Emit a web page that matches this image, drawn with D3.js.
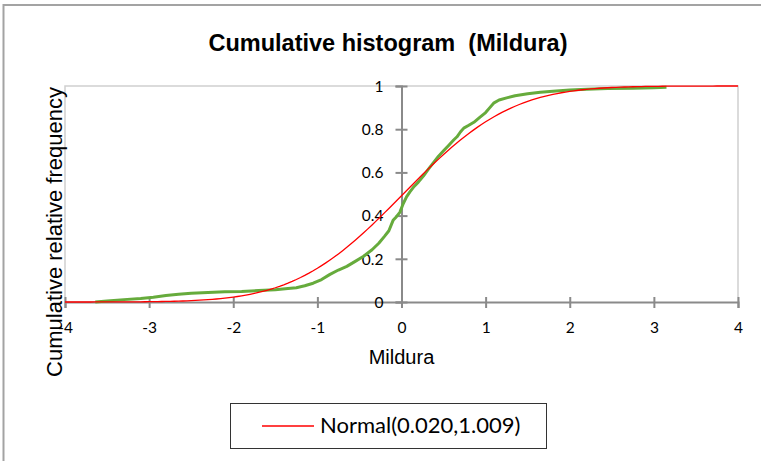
<!DOCTYPE html>
<html>
<head>
<meta charset="utf-8">
<script src="https://cdn.jsdelivr.net/npm/d3@7"></script>
<style>
  html, body { margin: 0; padding: 0; background: #fff; }
  svg { display: block; }
</style>
</head>
<body>
<svg id="chart" width="761" height="461"></svg>
<script>
// Empirical cumulative distribution of the standardised Mildura values
const ecdfX = [-3.64, -3.5, -3.3, -3.1, -2.95, -2.8, -2.65, -2.5, -2.3, -2.1, -1.9, -1.7, -1.5, -1.35, -1.25, -1.15, -1.05, -0.95, -0.85, -0.75, -0.65, -0.55, -0.45, -0.35, -0.27, -0.2, -0.15, -0.1, -0.06, -0.02, 0.02, 0.06, 0.1, 0.15, 0.2, 0.26, 0.32, 0.38, 0.44, 0.5, 0.56, 0.62, 0.66, 0.7, 0.74, 0.8, 0.86, 0.93, 1.0, 1.05, 1.1, 1.16, 1.25, 1.35, 1.5, 1.65, 1.8, 2.0, 2.2, 2.45, 2.75, 3.0, 3.15];
const ecdfP = [0, 0.005, 0.011, 0.016, 0.022, 0.03, 0.036, 0.041, 0.044, 0.047, 0.049, 0.053, 0.057, 0.062, 0.066, 0.075, 0.087, 0.104, 0.128, 0.148, 0.165, 0.188, 0.212, 0.242, 0.272, 0.305, 0.33, 0.378, 0.395, 0.415, 0.455, 0.487, 0.51, 0.535, 0.555, 0.583, 0.615, 0.645, 0.675, 0.7, 0.725, 0.75, 0.765, 0.787, 0.805, 0.818, 0.832, 0.855, 0.877, 0.9, 0.922, 0.935, 0.945, 0.955, 0.964, 0.971, 0.976, 0.981, 0.985, 0.988, 0.99, 0.992, 0.994];

// Fitted normal distribution (mean, standard deviation)
const normMean = [0.020];
const normSd = [1.009];

const xTicks = [-4, -3, -2, -1, 0, 1, 2, 3, 4];
const yTicks = [0, 0.2, 0.4, 0.6, 0.8, 1];

const titleText = "Cumulative histogram  (Mildura)";
const xTitle = "Mildura";
const yTitle = "Cumulative relative frequency";
const legendLabel = "Normal(0.020,1.009)";

// --- helpers ---
function erf(z) {
  const s = Math.sign(z); z = Math.abs(z);
  const t = 1 / (1 + 0.3275911 * z);
  const y = 1 - (((((1.061405429 * t - 1.453152027) * t) + 1.421413741) * t - 0.284496736) * t + 0.254829592) * t * Math.exp(-z * z);
  return s * y;
}
const normCdf = v => 0.5 * (1 + erf((v - normMean[0]) / (normSd[0] * Math.SQRT2)));

const svg = d3.select("#chart");
const plot = { left: 65, right: 738, top: 86, bottom: 302 };

const x = d3.scaleLinear().domain([-4, 4]).range([plot.left, plot.right]);
const y = d3.scaleLinear().domain([0, 1]).range([plot.bottom, plot.top]);

// outer chart frame
svg.append("rect")
  .attr("x", 3.5).attr("y", 5).attr("width", 780).attr("height", 480)
  .attr("fill", "none").attr("stroke", "#a3a3a3").attr("stroke-width", 2);

// title
svg.append("text")
  .attr("x", 388).attr("y", 51)
  .attr("text-anchor", "middle")
  .style("white-space", "pre")
  .attr("font-family", "'Liberation Sans', Arial, sans-serif")
  .attr("font-weight", "bold").attr("font-size", 23.5)
  .attr("fill", "#000")
  .text(titleText);

// plot area border (light grey)
svg.append("path")
  .attr("d", `M${plot.left},${plot.bottom} V${plot.top} H${plot.right} V${plot.bottom}`)
  .attr("fill", "none").attr("stroke", "#d0d0d0").attr("stroke-width", 1.5);

const tickFont = "Lato, 'Open Sans', sans-serif";

// x axis through y = 0
const gx = svg.append("g")
  .attr("transform", `translate(0,${y(0)})`)
  .call(d3.axisBottom(x).tickValues(xTicks).tickSize(6).tickFormat(d3.format("d")));
gx.select(".domain").attr("stroke", "#8a8a8a").attr("stroke-width", 2);
gx.selectAll(".tick line").attr("y1", -5).attr("y2", 6).attr("stroke", "#8a8a8a").attr("stroke-width", 2);
gx.selectAll(".tick text")
  .attr("y", 31).attr("dy", 0)
  .attr("font-family", tickFont).attr("font-size", 15.5).attr("fill", "#000")
  .text(d => d < 0 ? "-" + Math.abs(d) : d);

// y axis through x = 0
const gy = svg.append("g")
  .attr("transform", `translate(${x(0)},0)`)
  .call(d3.axisLeft(y).tickValues(yTicks).tickSize(6).tickFormat(d => d === 0 || d === 1 ? d3.format("d")(d) : d3.format(".1f")(d)));
gy.select(".domain").attr("stroke", "#8a8a8a").attr("stroke-width", 2);
gy.selectAll(".tick line").attr("x1", -6).attr("x2", 6).attr("stroke", "#8a8a8a").attr("stroke-width", 2);
gy.selectAll(".tick text")
  .attr("x", -18).attr("dy", "0.34em")
  .attr("font-family", tickFont).attr("font-size", 15.5).attr("fill", "#000");

// axis titles
svg.append("text")
  .attr("x", x(0)).attr("y", 364)
  .attr("text-anchor", "middle")
  .attr("font-family", "'Liberation Sans', Arial, sans-serif")
  .attr("font-size", 20).attr("fill", "#000")
  .text(xTitle);

svg.append("text")
  .attr("transform", `translate(62,232) rotate(-90)`)
  .attr("text-anchor", "middle")
  .attr("font-family", "'Liberation Sans', Arial, sans-serif")
  .attr("font-size", 22).attr("fill", "#000")
  .text(yTitle);

// fitted normal CDF
const normPts = d3.range(-4, 4.0001, 0.05).map(v => [v, normCdf(v)]);
const line = d3.line().x(d => x(d[0])).y(d => y(d[1]));

// empirical cumulative frequency
const ecdf = ecdfX.map((v, i) => [v, ecdfP[i]]);
svg.append("path")
  .datum(ecdf)
  .attr("d", line)
  .attr("fill", "none").attr("stroke", "#66ab3c").attr("stroke-width", 3)
  .attr("stroke-linejoin", "round");

svg.append("path")
  .datum(normPts)
  .attr("d", line)
  .attr("fill", "none").attr("stroke", "#ff0000").attr("stroke-width", 1.3);

// legend
const lg = svg.append("g");
lg.append("rect")
  .attr("x", 230.5).attr("y", 403.5).attr("width", 316).attr("height", 45)
  .attr("fill", "#fff").attr("stroke", "#333").attr("stroke-width", 1);
lg.append("line")
  .attr("x1", 262).attr("x2", 314).attr("y1", 426).attr("y2", 426)
  .attr("stroke", "#ff0000").attr("stroke-width", 1.3);
lg.append("text")
  .attr("x", 320).attr("y", 433)
  .attr("font-family", tickFont).attr("font-size", 22).attr("fill", "#000")
  .text(legendLabel);
</script>
</body>
</html>
